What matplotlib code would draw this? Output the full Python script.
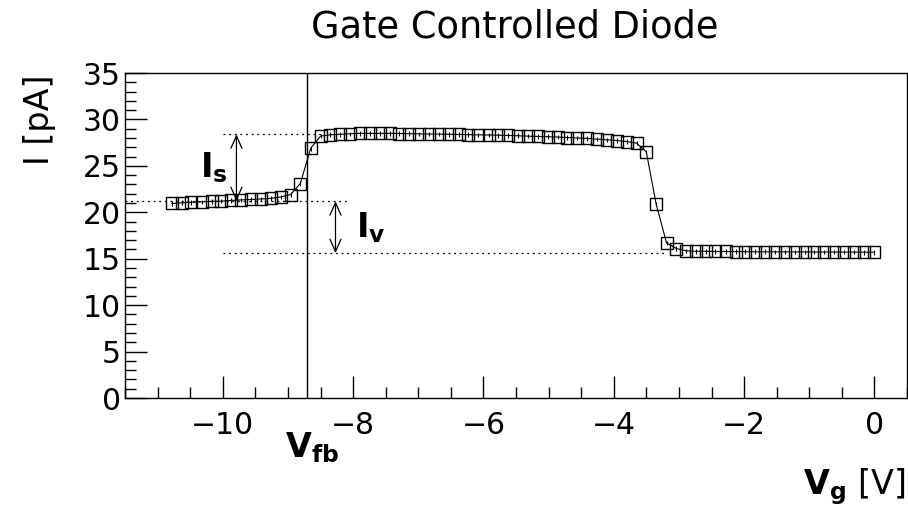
import matplotlib
matplotlib.use("Agg")
import matplotlib.pyplot as plt
from matplotlib.ticker import MultipleLocator

# ---- data ----
vg = [-10.78, -10.63, -10.48, -10.32, -10.17, -10.02, -9.87, -9.72, -9.57, -9.41,
      -9.26, -9.11, -8.96, -8.81, -8.65, -8.50, -8.35, -8.20, -8.05, -7.90,
      -7.74, -7.59, -7.44, -7.29, -7.14, -6.99, -6.83, -6.68, -6.53, -6.38,
      -6.23, -6.08, -5.92, -5.77, -5.62, -5.47, -5.32, -5.17, -5.01, -4.86,
      -4.71, -4.56, -4.41, -4.26, -4.10, -3.95, -3.80, -3.65, -3.50, -3.35,
      -3.19, -3.04, -2.89, -2.74, -2.59, -2.44, -2.28, -2.13, -1.98, -1.83,
      -1.68, -1.53, -1.37, -1.22, -1.07, -0.92, -0.77, -0.62, -0.46, -0.31,
      -0.16, 0.00]
current = [20.95, 21.02, 21.08, 21.12, 21.18, 21.2, 21.28, 21.33, 21.38, 21.43,
           21.5, 21.65, 21.9, 23.1, 26.9, 28.2, 28.35, 28.4, 28.45, 28.5,
           28.5, 28.5, 28.5, 28.48, 28.47, 28.45, 28.43, 28.42, 28.4, 28.38,
           28.36, 28.34, 28.32, 28.3, 28.27, 28.24, 28.2, 28.17, 28.14, 28.1,
           28.05, 28.0, 27.95, 27.88, 27.8, 27.72, 27.62, 27.45, 26.5, 20.9,
           16.7, 16.1, 15.85, 15.8, 15.8, 15.78, 15.78, 15.77, 15.76, 15.75,
           15.75, 15.74, 15.74, 15.73, 15.73, 15.72, 15.72, 15.72, 15.71, 15.71,
           15.7, 15.7]
current_err = [0.25] * len(vg)

v_fb = -8.7
i_sat = 28.4
i_mid = 21.2
i_low = 15.6

title = "Gate Controlled Diode"
xlabel = r"$\mathbf{V_{g}}$ [V]"
ylabel = "I [pA]"
xticks = [-10, -8, -6, -4, -2, 0]
yticks = [0, 5, 10, 15, 20, 25, 30, 35]

fig = plt.figure(figsize=(9.08, 5.12), dpi=100)
ax = fig.add_axes([125 / 908, (512 - 398) / 512, 782 / 908, (398 - 73) / 512])

ax.errorbar(vg, current, yerr=current_err, fmt='-', color='black', lw=0.8,
            elinewidth=0.8, capsize=0, marker='s', markersize=8.8,
            markerfacecolor='none', markeredgecolor='black', markeredgewidth=1.0)

ax.set_xlim(-11.5, 0.5)
ax.set_ylim(0, 35)

# annotation lines
ax.axvline(v_fb, color='black', lw=1.0)
dot = (0, (1.5, 3))
ax.plot([-10.0, -8.45], [i_sat, i_sat], color='black', lw=0.9, ls=dot)
ax.plot([-11.5, -8.05], [i_mid, i_mid], color='black', lw=0.9, ls=dot)
ax.plot([-10.0, -3.2], [i_low, i_low], color='black', lw=0.9, ls=dot)

arrow_kw = dict(arrowstyle='<->,head_length=0.9,head_width=0.4', color='black', lw=0.9,
                shrinkA=0, shrinkB=0)
ax.annotate('', xy=(-9.79, i_sat), xytext=(-9.79, i_mid), arrowprops=arrow_kw)
ax.annotate('', xy=(-8.27, i_mid), xytext=(-8.27, i_low), arrowprops=arrow_kw)

ax.text(-10.35, 24.8, r"$\mathbf{I_{s}}$", fontsize=24, ha='left', va='center')
ax.text(-7.95, 18.3, r"$\mathbf{I_{v}}$", fontsize=24, ha='left', va='center')

ax.xaxis.set_major_locator(MultipleLocator(2))
ax.xaxis.set_minor_locator(MultipleLocator(0.5))
ax.yaxis.set_major_locator(MultipleLocator(5))
ax.yaxis.set_minor_locator(MultipleLocator(1))
ax.set_xticks(xticks)
ax.set_yticks(yticks)
ax.set_xticklabels([("\u2212%d" % -t) if t < 0 else "%d" % t for t in xticks])
ax.tick_params(which='major', direction='in', length=16, width=1.0, labelsize=21.5,
               top=False, right=False, pad=9)
ax.tick_params(which='major', axis='y', pad=3)
ax.tick_params(which='minor', direction='in', length=8, width=1.0, top=False, right=False)
for s in ax.spines.values():
    s.set_linewidth(1.0)

fig.text(515 / 908, 1 - 27 / 512, title, fontsize=26.5, ha='center', va='center')
fig.text(40 / 908, 1 - 120 / 512, ylabel, fontsize=24, rotation=90, ha='center', va='center')
fig.text(905 / 908, 1 - 487 / 512, xlabel, fontsize=24, ha='right', va='center')
fig.text(312 / 908, 1 - 448 / 512, r"$\mathbf{V_{fb}}$", fontsize=24, ha='center', va='center')

fig.savefig("out.png", dpi=100)
